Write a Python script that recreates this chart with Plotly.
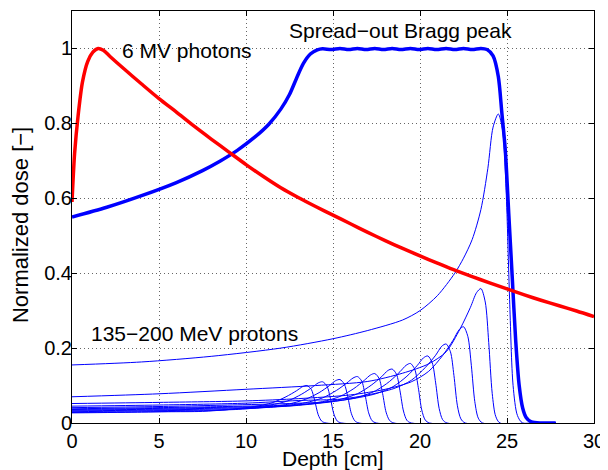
import plotly.graph_objects as go

# 6 MV photon depth dose
photon_x = [0, 0.15, 0.35, 0.6, 0.9, 1.2, 1.5, 1.8, 2.2, 3, 4, 5, 6, 7, 8, 9, 10, 11, 12, 13, 14,
            15, 16, 17, 18, 19, 20, 21, 22, 23, 24, 25, 26, 27, 28, 29, 30]
photon_y = [0.59, 0.72, 0.82, 0.91, 0.965, 0.99, 1.0, 0.995, 0.978, 0.945, 0.905, 0.866, 0.83, 0.793,
            0.758, 0.724, 0.69, 0.658, 0.628, 0.602, 0.578, 0.555, 0.532, 0.509, 0.487, 0.466, 0.446,
            0.427, 0.408, 0.391, 0.374, 0.358, 0.342, 0.327, 0.313, 0.299, 0.284]

# spread-out Bragg peak
sobp_x = [0, 2, 4, 6, 7.5, 8.5, 9.5, 10.5, 11.3, 12.0, 12.5, 12.9, 13.3, 13.7, 14.1,
          14.4, 14.9, 15.4, 15.9, 16.4, 16.9, 17.4, 17.9, 18.4, 18.9, 19.45, 19.95, 20.45, 20.95,
          21.5, 22.0, 22.5, 23.0, 23.5, 23.85, 24.2, 24.5, 24.7, 24.9, 25.1, 25.3, 25.5, 25.7, 25.9,
          26.1, 26.4, 27.0, 27.8]
sobp_y = [0.55, 0.576, 0.607, 0.642, 0.674, 0.699, 0.728, 0.763, 0.797, 0.838, 0.877, 0.92, 0.96,
          0.985, 0.996, 0.999, 0.997, 1.0, 0.997, 1.0, 0.997, 1.0, 0.997, 1.0, 0.997,
          1.0, 0.997, 1.0, 0.997, 1.0, 0.997, 1.0, 0.997, 1.0, 0.997, 0.98, 0.925, 0.83, 0.73, 0.56,
          0.39, 0.22, 0.10, 0.04, 0.015, 0.003, 0, 0]

# pristine Bragg peaks, 135-200 MeV
bp01_x = [0, 4, 5.5, 7.5, 9, 10.5, 11.5, 12.3, 12.9, 13.25, 13.5, 13.75, 13.95, 14.15, 14.35, 14.6, 27.8]
bp01_y = [0.027, 0.029, 0.030, 0.031, 0.036, 0.044, 0.054, 0.070, 0.086, 0.097, 0.100, 0.090, 0.060, 0.022, 0.005, 0, 0]
bp02_x = [0, 4, 6, 8.4, 10, 11.4, 12.4, 13.2, 13.8, 14.15, 14.4, 14.65, 14.85, 15.05, 15.25, 15.5, 27.8]
bp02_y = [0.028, 0.030, 0.031, 0.034, 0.040, 0.048, 0.059, 0.077, 0.095, 0.107, 0.110, 0.099, 0.066, 0.024, 0.005, 0, 0]
bp03_x = [0, 5, 7, 9.4, 11, 12.4, 13.4, 14.2, 14.8, 15.15, 15.4, 15.65, 15.85, 16.05, 16.25, 16.5, 27.8]
bp03_y = [0.030, 0.033, 0.034, 0.036, 0.042, 0.050, 0.063, 0.081, 0.100, 0.113, 0.116, 0.104, 0.070, 0.026, 0.006, 0, 0]
bp04_x = [0, 5, 8, 10.4, 12, 13.4, 14.4, 15.2, 15.8, 16.15, 16.4, 16.65, 16.85, 17.05, 17.25, 17.5, 27.8]
bp04_y = [0.032, 0.035, 0.037, 0.039, 0.045, 0.054, 0.067, 0.087, 0.107, 0.120, 0.124, 0.112, 0.074, 0.027, 0.006, 0, 0]
bp05_x = [0, 5, 9, 11.4, 13, 14.4, 15.4, 16.2, 16.8, 17.15, 17.4, 17.65, 17.85, 18.05, 18.25, 18.5, 27.8]
bp05_y = [0.034, 0.037, 0.040, 0.042, 0.048, 0.057, 0.071, 0.092, 0.114, 0.128, 0.132, 0.119, 0.079, 0.029, 0.007, 0, 0]
bp06_x = [0, 5, 10, 12.4, 14, 15.4, 16.4, 17.2, 17.8, 18.15, 18.4, 18.65, 18.85, 19.05, 19.25, 19.5, 27.8]
bp06_y = [0.036, 0.039, 0.043, 0.045, 0.052, 0.063, 0.078, 0.101, 0.124, 0.140, 0.144, 0.130, 0.086, 0.032, 0.007, 0, 0]
bp07_x = [0, 5, 10, 12, 13.5, 15, 16.45, 17.45, 18.25, 18.85, 19.2, 19.45, 19.7, 19.9, 20.1, 20.3, 20.55, 27.8]
bp07_y = [0.038, 0.041, 0.045, 0.047, 0.050, 0.057, 0.069, 0.086, 0.111, 0.137, 0.154, 0.159, 0.143, 0.095, 0.035, 0.008, 0, 0]
bp08_x = [0, 5, 10, 12.5, 14.5, 16, 17.45, 18.45, 19.25, 19.85, 20.2, 20.45, 20.7, 20.9, 21.1, 21.3, 21.55, 27.8]
bp08_y = [0.041, 0.044, 0.049, 0.052, 0.056, 0.064, 0.078, 0.097, 0.125, 0.154, 0.174, 0.179, 0.161, 0.107, 0.039, 0.009, 0, 0]
bp09_x = [0, 5, 10, 13, 15.5, 17, 18.5, 19.5, 20.3, 20.9, 21.25, 21.5, 21.75, 21.95, 22.15, 22.35, 22.6, 27.8]
bp09_y = [0.045, 0.048, 0.053, 0.060, 0.064, 0.075, 0.092, 0.114, 0.148, 0.181, 0.205, 0.211, 0.190, 0.127, 0.046, 0.011, 0, 0]
bp10_x = [0, 5, 10, 13, 16, 18, 19.5, 20.5, 21.3, 21.9, 22.25, 22.5, 22.75, 22.95, 23.15, 23.35, 23.6, 27.8]
bp10_y = [0.052, 0.055, 0.059, 0.065, 0.075, 0.090, 0.110, 0.138, 0.180, 0.221, 0.249, 0.257, 0.231, 0.154, 0.057, 0.013, 0, 0]
bp11_x = [0, 5, 10, 14, 17, 19, 20.5, 21.5, 22.3, 22.9, 23.25, 23.5, 23.75, 23.95, 24.15, 24.35, 24.6, 27.8]
bp11_y = [0.070, 0.078, 0.090, 0.100, 0.111, 0.133, 0.158, 0.190, 0.251, 0.309, 0.348, 0.359, 0.323, 0.215, 0.079, 0.018, 0, 0]
bp12_x = [0, 4, 8, 12, 15, 17, 19, 20, 21, 22, 22.5, 23, 23.5, 23.9, 24.2, 24.5, 24.75, 24.95, 25.15, 25.35, 25.6, 25.9, 27.8]
bp12_y = [0.155, 0.163, 0.178, 0.200, 0.225, 0.247, 0.275, 0.300, 0.34, 0.40, 0.44, 0.49, 0.57, 0.68, 0.79, 0.825, 0.78, 0.62, 0.33, 0.10, 0.02, 0, 0]

x_ticks = [0, 5, 10, 15, 20, 25, 30]
y_ticks = [0, 0.2, 0.4, 0.6, 0.8, 1]
y_ticktext = ['0', '0.2', '0.4', '0.6', '0.8', '1']

BLUE = '#0000ff'
RED = '#ff0000'

fig = go.Figure()

pristine = [(bp01_x, bp01_y), (bp02_x, bp02_y), (bp03_x, bp03_y), (bp04_x, bp04_y),
            (bp05_x, bp05_y), (bp06_x, bp06_y), (bp07_x, bp07_y), (bp08_x, bp08_y),
            (bp09_x, bp09_y), (bp10_x, bp10_y), (bp11_x, bp11_y), (bp12_x, bp12_y)]
for px, py in pristine:
    fig.add_trace(go.Scatter(x=px, y=py, mode='lines',
                             line=dict(color=BLUE, width=1, shape='spline', smoothing=0.8)))

fig.add_trace(go.Scatter(x=sobp_x, y=sobp_y, mode='lines',
                         line=dict(color=BLUE, width=3.5, shape='spline', smoothing=0.8)))
fig.add_trace(go.Scatter(x=photon_x, y=photon_y, mode='lines',
                         line=dict(color=RED, width=3.5, shape='spline', smoothing=0.8)))

# curve labels
label_font = dict(size=21)
fig.add_annotation(x=2.75, y=0.995, text='6 MV photons', showarrow=False,
                   xanchor='left', yanchor='middle', font=label_font)
fig.add_annotation(x=12.35, y=1.048, text='Spread\u2212out Bragg peak', showarrow=False,
                   xanchor='left', yanchor='middle', font=label_font)
fig.add_annotation(x=1.0, y=0.24, text='135\u2212200 MeV protons', showarrow=False,
                   xanchor='left', yanchor='middle', font=label_font)

# axis titles
fig.add_annotation(xref='paper', yref='paper', x=0.5, y=-0.053, text='Depth [cm]',
                   showarrow=False, xanchor='center', yanchor='top', font=label_font)
fig.add_annotation(xref='paper', yref='paper', x=-0.1, y=0.48, text='Normalized dose [\u2212]',
                   showarrow=False, xanchor='center', yanchor='middle', textangle=-90,
                   font=dict(size=22))

axis_style = dict(showline=True, linecolor='black', linewidth=1, mirror='ticks',
                  ticks='inside', ticklen=5, tickcolor='black', showgrid=True,
                  gridcolor='#666666', gridwidth=1, griddash='1px,3px', zeroline=False)

fig.update_xaxes(range=[0, 30], tickvals=x_ticks, **axis_style)
fig.update_yaxes(range=[0, 1.1], tickvals=y_ticks, ticktext=y_ticktext,
                 ticklabelstandoff=-5, **axis_style)

# page body adds 8px offset, so the figure is 8px smaller
fig.update_layout(
    width=600, height=462,
    margin=dict(l=64, r=14, t=3, b=47),
    plot_bgcolor='white', paper_bgcolor='white',
    showlegend=False,
    font=dict(family='Liberation Sans, Arial, sans-serif', size=20, color='black'),
)

fig.write_html("out.html")
